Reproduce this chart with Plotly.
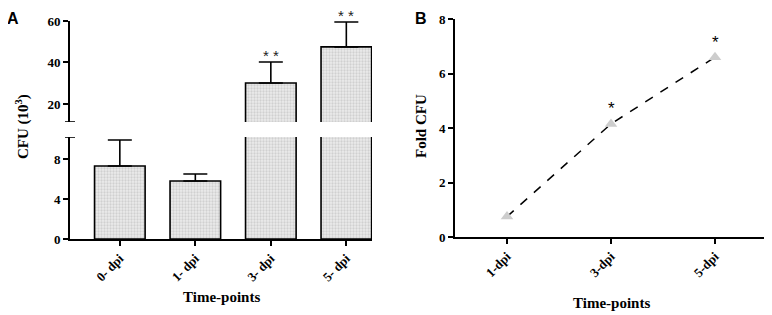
import plotly.graph_objects as go

# page body adds an 8px margin, so the figure is drawn 8px smaller and offset
OFF = 8
W, H = 772 - OFF, 315 - OFF

# Panel A data
cats_a = ["0- dpi", "1- dpi", "3- dpi", "5- dpi"]
cfu_mean = [7.3, 5.8, 30.1, 47.5]
cfu_sd = [2.6, 0.7, 10.1, 12.0]
sig_a = ["", "", "**", "**"]

# Panel B data
cats_b = ["1-dpi", "3-dpi", "5-dpi"]
fold_cfu = [0.75, 4.15, 6.6]
sig_b = ["", "*", "*"]

def px_y(p):
    return 1 - (p - OFF) / H

def px_x(p):
    return (p - OFF) / W

serif = "Liberation Serif"
tickfont = dict(family=serif, size=13, color="black", weight="bold")

fig = go.Figure()

bar_style = dict(
    width=0.67,
    marker=dict(
        color="#e0e0e0",
        line=dict(color="black", width=1.6),
        pattern=dict(shape=".", size=3, solidity=0.45, fgcolor="#b4b4b4", bgcolor="#ececec"),
    ),
    error_y=dict(type="data", symmetric=False, array=cfu_sd, arrayminus=[0] * 4,
                 color="black", thickness=1.6, width=12),
    showlegend=False,
)
fig.add_trace(go.Bar(x=cats_a, y=cfu_mean, xaxis="x", yaxis="y", **bar_style))
fig.add_trace(go.Bar(x=cats_a, y=cfu_mean, xaxis="x", yaxis="y2", **bar_style))

fig.add_trace(go.Scatter(
    x=cats_b, y=fold_cfu, xaxis="x3", yaxis="y3", mode="lines+markers",
    line=dict(color="black", width=1.5, dash="dash"),
    marker=dict(symbol="triangle-up", size=11, color="#cdcdcd"),
    showlegend=False,
))

axis_common = dict(showline=True, linecolor="black", linewidth=1.6, ticks="outside",
                   tickcolor="black", tickwidth=1.6, ticklen=5, showgrid=False,
                   zeroline=False, tickfont=tickfont, automargin=False)

fig.update_layout(
    width=W, height=H, margin=dict(l=0, r=0, t=0, b=0, pad=0, autoexpand=False),
    plot_bgcolor="white", paper_bgcolor="white",
    bargap=0.33,
    xaxis=dict(domain=[px_x(70), px_x(372)], anchor="y", range=[-0.66, 3.34],
               tickangle=-45, **axis_common),
    yaxis=dict(domain=[px_y(239), px_y(137)], anchor="x", range=[0, 10.2],
               tickvals=[0, 4, 8], **axis_common),
    yaxis2=dict(domain=[px_y(122), px_y(21)], anchor="x", range=[11.3, 60],
                tickvals=[20, 40, 60], **axis_common),
    xaxis3=dict(domain=[px_x(455), px_x(767)], anchor="y3", range=[-0.5, 2.5],
                tickangle=-45, **axis_common),
    yaxis3=dict(domain=[px_y(237), px_y(19)], anchor="x3", range=[0, 8],
                dtick=2, **axis_common),
)

annos = [
    dict(text="A", x=px_x(13), y=1, yanchor="top",
         font=dict(family="Liberation Sans", size=16, weight="bold")),
    dict(text="B", x=px_x(421), y=1, yanchor="top",
         font=dict(family="Liberation Sans", size=16, weight="bold")),
    dict(text="CFU (10<sup>3</sup>)", x=px_x(23), y=px_y(127), textangle=-90,
         font=dict(family=serif, size=15, weight="bold")),
    dict(text="Time-points", x=px_x(221), y=px_y(297), font=dict(family=serif, size=15, weight="bold")),
    dict(text="Fold CFU", x=px_x(421), y=px_y(126), textangle=-90,
         font=dict(family=serif, size=15, weight="bold")),
    dict(text="Time-points", x=px_x(611), y=px_y(303), font=dict(family=serif, size=15, weight="bold")),
]
for a in annos:
    a.setdefault("yanchor", "middle")
    a.update(xref="paper", yref="paper", showarrow=False, xanchor="center")
    a["font"]["color"] = "black"
    fig.add_annotation(**a)

for c, m, s, t in zip(cats_a, cfu_mean, cfu_sd, sig_a):
    if t:
        fig.add_annotation(x=c, y=m + s, xref="x", yref="y2", text=t.replace("**", "* *"),
                           showarrow=False, yanchor="bottom", yshift=-4,
                           font=dict(family="Liberation Sans", size=15, color="#222222"))

for c, v, t in zip(cats_b, fold_cfu, sig_b):
    if t:
        fig.add_annotation(x=c, y=v, xref="x3", yref="y3", text=t, showarrow=False,
                           yanchor="middle", yshift=15,
                           font=dict(family="Liberation Sans", size=17, color="black"))

# axis break marks
for yv, yr in [(10.2, "y"), (11.3, "y2")]:
    fig.add_shape(type="line", xref="paper", yref=yr, x0=px_x(65), x1=px_x(75), y0=yv, y1=yv,
                  line=dict(color="black", width=1.6))

fig.write_html("out.html")
